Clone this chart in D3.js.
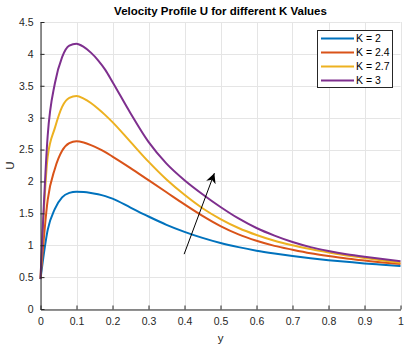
<!DOCTYPE html>
<html><head><meta charset="utf-8">
<script src="https://cdn.jsdelivr.net/npm/d3@7"></script>
<style>
html,body{margin:0;padding:0;background:#fff;}
svg text{font-family:"Liberation Sans",Arial,Helvetica,sans-serif;}
</style></head>
<body>
<svg id="chart" width="411" height="348"></svg>
<script>
const xValues = [0,0.02,0.04,0.06,0.08,0.1,0.12,0.14,0.16,0.18,0.2,0.25,0.3,0.35,0.4,0.45,0.5,0.55,0.6,0.65,0.7,0.75,0.8,0.85,0.9,0.95,1];
const uK2  = [0.47,1.24,1.57,1.75,1.82,1.84,1.835,1.82,1.80,1.77,1.73,1.59,1.45,1.32,1.21,1.115,1.035,0.97,0.915,0.87,0.83,0.795,0.765,0.74,0.715,0.695,0.675];
const uK24 = [0.47,1.71,2.20,2.48,2.60,2.63,2.61,2.57,2.52,2.46,2.39,2.21,2.02,1.83,1.64,1.46,1.30,1.17,1.07,0.99,0.93,0.875,0.83,0.79,0.76,0.73,0.705];
const uK27 = [0.47,2.39,2.84,3.17,3.31,3.34,3.30,3.23,3.14,3.04,2.93,2.62,2.31,2.03,1.79,1.58,1.41,1.27,1.16,1.07,1.00,0.94,0.885,0.84,0.80,0.76,0.725];
const uK3  = [0.47,2.72,3.54,3.95,4.13,4.16,4.11,4.02,3.90,3.75,3.56,3.07,2.62,2.28,2.02,1.80,1.60,1.42,1.27,1.15,1.05,0.97,0.91,0.86,0.82,0.785,0.75];
const seriesNames = ["K = 2","K = 2.4","K = 2.7","K = 3"];
const seriesValues = [uK2,uK24,uK27,uK3];
const seriesColors = ["#0072BD","#D95319","#EDB120","#7E2F8E"];
const xTicks = [0,0.1,0.2,0.3,0.4,0.5,0.6,0.7,0.8,0.9,1];
const xTickLabels = ["0","0.1","0.2","0.3","0.4","0.5","0.6","0.7","0.8","0.9","1"];
const yTicks = [0,0.5,1,1.5,2,2.5,3,3.5,4,4.5];
const yTickLabels = ["0","0.5","1","1.5","2","2.5","3","3.5","4","4.5"];
const arrowFrom = [0.399,0.86];
const arrowTo = [0.483,2.13];
const titleText = "Velocity Profile U for different K Values";
const xLabel = "y", yLabel = "U";

const svg = d3.select("#chart");
const L = 40.5, R = 400.5, T = 22, B = 309;
const x = d3.scaleLinear().domain([0,1]).range([L,R]);
const y = d3.scaleLinear().domain([0,4.5]).range([B,T]);
const axisColor = "#262626";

// grid
const grid = svg.append("g");
grid.selectAll("line.vx").data(xTicks).enter().append("line")
  .attr("x1",d=>Math.round(x(d))+0.5).attr("x2",d=>Math.round(x(d))+0.5)
  .attr("y1",T).attr("y2",B).attr("stroke","#e5e5e5").attr("stroke-width",1);
grid.selectAll("line.hy").data(yTicks).enter().append("line")
  .attr("y1",d=>Math.round(y(d))+0.5).attr("y2",d=>Math.round(y(d))+0.5)
  .attr("x1",L).attr("x2",R).attr("stroke","#e5e5e5").attr("stroke-width",1);

// lines
const line = d3.line().x((d,i)=>x(xValues[i])).y(d=>y(d)).curve(d3.curveMonotoneX);
seriesValues.forEach((vals,k)=>{
  svg.append("path").datum(vals).attr("d",line).attr("fill","none")
    .attr("stroke",seriesColors[k]).attr("stroke-width",2).attr("stroke-linejoin","round");
});

// axes
const xAxis = d3.axisBottom(x).tickValues(xTicks).tickFormat((d,i)=>xTickLabels[i]).tickSizeInner(-4).tickSizeOuter(0).tickPadding(8);
const gx = svg.append("g").attr("transform",`translate(0,${Math.round(B)+0.5})`).call(xAxis);
const yAxis = d3.axisLeft(y).tickValues(yTicks).tickFormat((d,i)=>yTickLabels[i]).tickSizeInner(-4).tickSizeOuter(0).tickPadding(7);
const gy = svg.append("g").attr("transform",`translate(${Math.floor(L)+0.5},0)`).call(yAxis);
[gx,gy].forEach(g=>{
  g.select(".domain").attr("stroke",axisColor);
  g.selectAll(".tick line").attr("stroke",axisColor);
  g.selectAll(".tick text").attr("fill",axisColor).style("font-size","10.5px").style("font-family",'"Liberation Sans",Arial,sans-serif');
});

// title & labels
svg.append("text").attr("x",(L+R)/2).attr("y",15).attr("text-anchor","middle")
  .style("font-size","11.5px").style("font-weight","bold").attr("fill","#000").text(titleText);
svg.append("text").attr("x",(L+R)/2).attr("y",342).attr("text-anchor","middle")
  .style("font-size","11.5px").attr("fill",axisColor).text(xLabel);
svg.append("text").attr("transform",`translate(14,${(T+B)/2}) rotate(-90)`).attr("text-anchor","middle")
  .style("font-size","11.5px").attr("fill",axisColor).text(yLabel);

// arrow
const defs = svg.append("defs");
defs.append("marker").attr("id","ah").attr("viewBox","0 0 10 10").attr("refX",10).attr("refY",5)
  .attr("markerWidth",10).attr("markerHeight",10).attr("markerUnits","userSpaceOnUse").attr("orient","auto")
  .append("path").attr("d","M0,0 L10,5 L0,10 L3,5 Z").attr("fill","#000");
svg.append("line").attr("x1",x(arrowFrom[0])).attr("y1",y(arrowFrom[1]))
  .attr("x2",x(arrowTo[0])).attr("y2",y(arrowTo[1]))
  .attr("stroke","#000").attr("stroke-width",1).attr("marker-end","url(#ah)");

// legend
const lg = svg.append("g");
lg.append("rect").attr("x",317.5).attr("y",30.5).attr("width",75).attr("height",57)
  .attr("fill","#fff").attr("stroke",axisColor).attr("stroke-width",1);
seriesNames.forEach((n,k)=>{
  const yy = 38.5 + k*14;
  lg.append("line").attr("x1",321).attr("x2",354).attr("y1",yy).attr("y2",yy)
    .attr("stroke",seriesColors[k]).attr("stroke-width",2);
  lg.append("text").attr("x",356).attr("y",yy+3.8).style("font-size","10.5px").attr("fill","#000").text(n);
});
</script>
</body></html>
